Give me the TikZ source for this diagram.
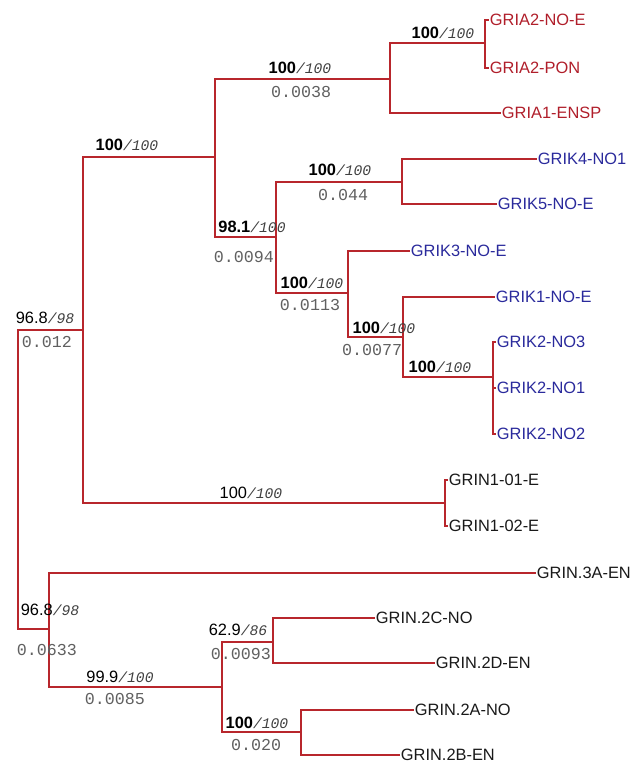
\documentclass[tikz,border=0pt]{standalone}
\usepackage{fontspec}
\setsansfont{Liberation Sans}
\setmonofont{Liberation Mono}
\usetikzlibrary{positioning}
\definecolor{branchred}{HTML}{B8262C}
\definecolor{griared}{HTML}{B01E2A}
\definecolor{grikblue}{HTML}{2A2A9C}
\definecolor{lengray}{HTML}{606060}
\tikzset{
  branch/.style ={draw=branchred, line width=1pt},
  leaf/.style   ={anchor=west, inner xsep=0.5pt, inner ysep=0pt, font=\sffamily\fontsize{12.3}{14}\selectfont},
  gria/.style   ={leaf, text=griared},
  grik/.style   ={leaf, text=grikblue},
  grin/.style   ={leaf, text=black!90},
  boot/.style   ={inner sep=0pt, font=\fontsize{12.3}{13}\selectfont},
  blen/.style   ={inner sep=0pt, text=lengray, font=\ttfamily\fontsize{12.5}{14}\selectfont},
}
\newcommand{\bsb}[2]{{\sffamily\bfseries #1}{\ttfamily\itshape\fontsize{11}{13}\selectfont\color{black!75}/#2}}
\newcommand{\bsn}[2]{{\sffamily #1}{\ttfamily\itshape\fontsize{11}{13}\selectfont\color{black!75}/#2}}

\begin{document}
\begin{tikzpicture}[x=0.75pt, y=-0.75pt]
  \useasboundingbox (0,0) rectangle (633,766);

  % internal nodes
  \coordinate (root)   at (18,480);
  \coordinate (nA)     at (83,330);
  \coordinate (nB)     at (49,629);
  \coordinate (nGR)    at (215,157);
  \coordinate (nGRIN1) at (445,503);
  \coordinate (nGRIA)  at (390,79);
  \coordinate (nGRIA2) at (485,43);
  \coordinate (nK)     at (276,237);
  \coordinate (nK45)   at (402,182);
  \coordinate (nK123)  at (348,293);
  \coordinate (nK12)   at (403,337);
  \coordinate (nK2)    at (493,377);
  \coordinate (nN2)    at (222,687);
  \coordinate (nN2CD)  at (273,642);
  \coordinate (nN2AB)  at (301,732);

  % leaves
  \node[gria] (gria2noe)  at (489,20)  {GRIA2-NO-E};
  \node[gria] (gria2pon)  at (489,68)  {GRIA2-PON};
  \node[gria] (gria1ensp) at (501,113) {GRIA1-ENSP};
  \node[grik] (grik4no1)  at (537,159) {GRIK4-NO1};
  \node[grik] (grik5noe)  at (497,204) {GRIK5-NO-E};
  \node[grik] (grik3noe)  at (410,251) {GRIK3-NO-E};
  \node[grik] (grik1noe)  at (495,297) {GRIK1-NO-E};
  \node[grik] (grik2no3)  at (496,342) {GRIK2-NO3};
  \node[grik] (grik2no1)  at (496,388) {GRIK2-NO1};
  \node[grik] (grik2no2)  at (496,434) {GRIK2-NO2};
  \node[grin] (grin101)   at (448,480) {GRIN1-01-E};
  \node[grin] (grin102)   at (448,526) {GRIN1-02-E};
  \node[grin] (grin3a)    at (536,573) {GRIN.3A-EN};
  \node[grin] (grin2c)    at (375,618) {GRIN.2C-NO};
  \node[grin] (grin2d)    at (435,663) {GRIN.2D-EN};
  \node[grin] (grin2a)    at (414,710) {GRIN.2A-NO};
  \node[grin] (grin2b)    at (400,755) {GRIN.2B-EN};

  % branches
  \draw[branch] (root) |- (nA);
  \draw[branch] (root) |- (nB);
  \draw[branch] (nA) |- (nGR);
  \draw[branch] (nA) |- (nGRIN1);
  \draw[branch] (nGR) |- (nGRIA);
  \draw[branch] (nGR) |- (nK);
  \draw[branch] (nGRIA) |- (nGRIA2);
  \draw[branch] (nGRIA) |- (gria1ensp.west);
  \draw[branch] (nGRIA2) |- (gria2noe.west);
  \draw[branch] (nGRIA2) |- (gria2pon.west);
  \draw[branch] (nK) |- (nK45);
  \draw[branch] (nK) |- (nK123);
  \draw[branch] (nK45) |- (grik4no1.west);
  \draw[branch] (nK45) |- (grik5noe.west);
  \draw[branch] (nK123) |- (grik3noe.west);
  \draw[branch] (nK123) |- (nK12);
  \draw[branch] (nK12) |- (grik1noe.west);
  \draw[branch] (nK12) |- (nK2);
  \foreach \lf in {grik2no3,grik2no1,grik2no2}
    \draw[branch] (nK2) |- (\lf.west);
  \draw[branch] (nGRIN1) |- (grin101.west);
  \draw[branch] (nGRIN1) |- (grin102.west);
  \draw[branch] (nB) |- (grin3a.west);
  \draw[branch] (nB) |- (nN2);
  \draw[branch] (nN2) |- (nN2CD);
  \draw[branch] (nN2) |- (nN2AB);
  \draw[branch] (nN2CD) |- (grin2c.west);
  \draw[branch] (nN2CD) |- (grin2d.west);
  \draw[branch] (nN2AB) |- (grin2a.west);
  \draw[branch] (nN2AB) |- (grin2b.west);

  % support values and branch lengths
  \node[boot] (bGRIA2) at (443,33)  {\bsb{100}{100}};
  \node[boot] (bGRIA)  at (300,68)  {\bsb{100}{100}};
  \node[blen] (lGRIA)  at (301,92)  {0.0038};
  \node[boot] (bGR)    at (127,145) {\bsb{100}{100}};
  \node[boot] (bK45)   at (340,170) {\bsb{100}{100}};
  \node[blen] (lK45)   at (343,195) {0.044};
  \node[boot] (bK)     at (252,227) {\bsb{98.1}{100}};
  \node[blen] (lK)     at (244,257) {0.0094};
  \node[boot] (bK123)  at (312,283) {\bsb{100}{100}};
  \node[blen] (lK123)  at (310,305) {0.0113};
  \node[boot] (bK12)   at (384,328) {\bsb{100}{100}};
  \node[blen] (lK12)   at (372,350) {0.0077};
  \node[boot] (bK2)    at (440,367) {\bsb{100}{100}};
  \node[boot] (bA)     at (45,318)  {\bsn{96.8}{98}};
  \node[blen] (lA)     at (47,342)  {0.012};
  \node[boot] (bGRIN1) at (251,493) {\bsn{100}{100}};
  \node[boot] (bB)     at (50,610)  {\bsn{96.8}{98}};
  \node[blen] (lB)     at (47,650)  {0.0633};
  \node[boot] (bN2CD)  at (238,630) {\bsn{62.9}{86}};
  \node[blen] (lN2CD)  at (241,654) {0.0093};
  \node[boot] (bN2)    at (120,677) {\bsn{99.9}{100}};
  \node[blen] (lN2)    at (115,699) {0.0085};
  \node[boot] (bN2AB)  at (257,723) {\bsb{100}{100}};
  \node[blen] (lN2AB)  at (256,745) {0.020};
\end{tikzpicture}
\end{document}
